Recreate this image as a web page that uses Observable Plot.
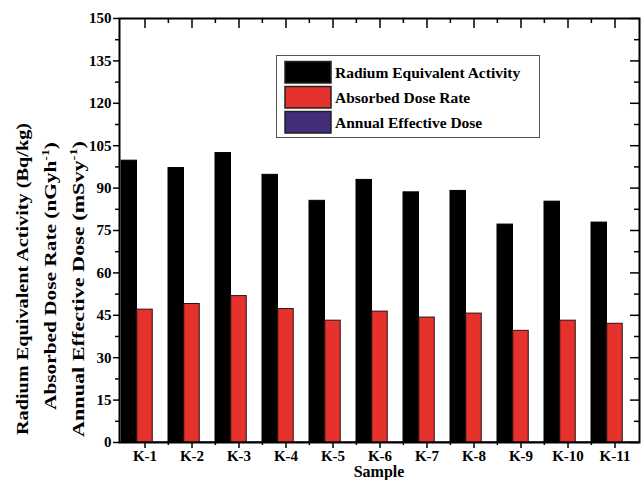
<!DOCTYPE html>
<html><head><meta charset="utf-8">
<script src="https://cdn.jsdelivr.net/npm/d3@7"></script>
<script src="https://cdn.jsdelivr.net/npm/@observablehq/plot@0.6"></script>
<style>body{margin:0;background:#fff}#chart{width:641px;height:480px}</style>
</head><body><div id="chart"></div>
<script>
const samples = ["K-1","K-2","K-3","K-4","K-5","K-6","K-7","K-8","K-9","K-10","K-11"];
const radiumEq = [99.7, 97.1, 102.4, 94.7, 85.5, 92.9, 88.5, 89.0, 77.1, 85.2, 77.8];
const absorbedDose = [47.0, 49.0, 51.8, 47.2, 43.1, 46.3, 44.2, 45.6, 39.5, 43.1, 42.0];
const annualDose = [0.058, 0.060, 0.064, 0.058, 0.053, 0.057, 0.054, 0.056, 0.048, 0.053, 0.052];
const seriesNames = ["Radium Equivalent Activity", "Absorbed Dose Rate", "Annual Effective Dose"];
const seriesColors = ["#000000", "#e5322c", "#432c7a"];
const yTicks = [0, 15, 30, 45, 60, 75, 90, 105, 120, 135, 150];
const yMinor = [7.5, 22.5, 37.5, 52.5, 67.5, 82.5, 97.5, 112.5, 127.5, 142.5];

const W = 641, H = 480, mL = 119, mR = 2, mT = 18, mB = 38;
const plotW = W - mL - mR, plotH = H - mT - mB;
const bw = plotW / samples.length;
const rows = vals => samples.map((s, i) => ({sample: s, value: vals[i]}));
const FONT = "'Liberation Serif','Times New Roman',serif";

const chart = Plot.plot({
  width: W, height: H,
  marginLeft: mL, marginRight: mR, marginTop: mT, marginBottom: mB,
  style: {fontFamily: FONT, fontWeight: "bold", fontSize: "15px", color: "#000", background: "#fff", overflow: "visible"},
  x: {type: "band", domain: samples, padding: 0, label: null, axis: null},
  y: {domain: [0, 150], label: null, axis: null},
  marks: [
    Plot.barY(rows(radiumEq), {x: "sample", y: "value", fill: seriesColors[0], stroke: "#000", strokeWidth: 1, insetRight: 2 * bw / 3}),
    Plot.barY(rows(absorbedDose), {x: "sample", y: "value", fill: seriesColors[1], stroke: "#2a1010", strokeWidth: 1, insetLeft: bw / 3, insetRight: bw / 3}),
    Plot.barY(rows(annualDose), {x: "sample", y: "value", fill: seriesColors[2], stroke: "#1a1030", strokeWidth: 1, insetLeft: 2 * bw / 3}),
    Plot.axisY({ticks: yTicks, tickSize: 6, tickPadding: 2, strokeWidth: 1.5, tickFormat: d => String(d), label: null}),
    Plot.axisY({ticks: yMinor, tickSize: 4, strokeWidth: 1.5, fill: "none", label: null}),
    Plot.tickY(yTicks, {y: d => d, insetLeft: plotW - 9, stroke: "#000", strokeWidth: 1.5}),
    Plot.tickY(yMinor, {y: d => d, insetLeft: plotW - 5, stroke: "#000", strokeWidth: 1.5}),
    Plot.axisX({tickSize: 6, tickPadding: 2, strokeWidth: 1.5, label: null}),
    Plot.tickX(samples.slice(1), {x: d => d, dx: -bw / 2, insetTop: plotH, insetBottom: -3, stroke: "#000", strokeWidth: 1.5}),
    Plot.tickX(samples, {x: d => d, insetBottom: plotH - 10, stroke: "#000", strokeWidth: 1.5}),
    Plot.tickX(samples.slice(1), {x: d => d, dx: -bw / 2, insetBottom: plotH - 5, stroke: "#000", strokeWidth: 1.5}),
    Plot.frame({stroke: "#000", strokeWidth: 2})
  ]
});
document.getElementById("chart").appendChild(chart);

const svg = d3.select(chart);
const g = svg.append("g").attr("font-family", FONT).attr("font-weight", "bold").attr("fill", "#000");

// Y axis titles (three rotated lines)
const titles = [
  {x: 28, y: 279, len: 312, parts: [["Radium Equivalent Activity (Bq/kg)", 0]]},
  {x: 56, y: 276, len: 268, parts: [["Absorbed Dose Rate (nGyh", 0], ["-1", 1], [")", 0]]},
  {x: 84, y: 289, len: 296, parts: [["Annual Effective Dose (mSvy", 0], ["-1", 1], [")", 0]]}
];
titles.forEach(t => {
  const tx = g.append("text")
    .attr("transform", `translate(${t.x},${t.y}) rotate(-90)`)
    .attr("text-anchor", "middle").attr("font-size", 17)
    .attr("textLength", t.len).attr("lengthAdjust", "spacingAndGlyphs");
  let shifted = false;
  t.parts.forEach(([s, sup]) => {
    const ts = tx.append("tspan").text(s);
    if (sup) { ts.attr("dy", -7).attr("font-size", 11); shifted = true; }
    else if (shifted) { ts.attr("dy", 7); shifted = false; }
  });
});

// X axis title
g.append("text").attr("x", mL + plotW / 2).attr("y", 477).attr("text-anchor", "middle")
  .attr("font-size", 16).text("Sample");

// Legend
const lg = g.append("g");
lg.append("rect").attr("x", 276.5).attr("y", 55.5).attr("width", 263).attr("height", 82)
  .attr("fill", "#fff").attr("stroke", "#555").attr("stroke-width", 1);
seriesNames.forEach((name, i) => {
  const y0 = 61.5 + i * 25;
  lg.append("rect").attr("x", 285).attr("y", y0).attr("width", 46).attr("height", 21.5)
    .attr("fill", seriesColors[i]).attr("stroke", "#222").attr("stroke-width", 1.5);
  lg.append("text").attr("x", 335).attr("y", y0 + 16.5).attr("text-anchor", "start")
    .attr("font-size", 15.5).text(name);
});
</script>
</body></html>
